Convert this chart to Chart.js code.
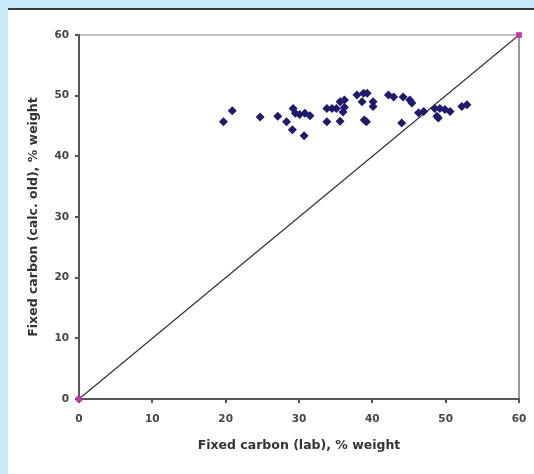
<!DOCTYPE html>
<html>
<head>
<meta charset="utf-8">
<script src="https://cdn.jsdelivr.net/npm/chart.js@4"></script>
<style>
  html, body { margin: 0; padding: 0; background: #c6e9f8; }
  #wrap { width: 534px; height: 474px; position: relative; }
</style>
</head>
<body>
<div id="wrap"><canvas id="first" width="534" height="474"></canvas></div>
<script>
// fixed carbon, lab value vs calculated (old) value
const labX = [19.7, 20.9, 24.7, 27.1, 28.3, 29.1, 30.7, 29.2, 29.5, 30.1, 30.8, 31.5,
  33.8, 34.5, 35.1, 35.6, 33.8, 35.6, 36.2, 36.2, 36.0,
  37.9, 38.8, 39.3, 38.6, 40.1, 40.1, 38.9, 39.2,
  42.2, 42.9, 44.2, 45.1, 45.4, 44.0, 46.3, 47.0,
  48.5, 49.2, 49.9, 50.6, 48.8, 49.0, 52.2, 52.9];
const calcY = [45.7, 47.5, 46.5, 46.6, 45.7, 44.4, 43.4, 47.9, 47.1, 46.9, 47.1, 46.7,
  47.9, 47.9, 47.9, 49.0, 45.7, 45.8, 49.3, 48.1, 47.3,
  50.1, 50.4, 50.4, 49.0, 49.0, 48.2, 46.0, 45.7,
  50.1, 49.8, 49.8, 49.3, 48.8, 45.5, 47.2, 47.4,
  47.9, 47.9, 47.7, 47.4, 46.6, 46.3, 48.2, 48.5];
const lineX = [0, 60];
const lineY = [0, 60];
const tickMin = 0, tickMax = 60, tickStep = 10;

const pts = labX.map((v, i) => ({x: v, y: calcY[i]}));
const linePts = lineX.map((v, i) => ({x: v, y: lineY[i]}));

// light blue frame with white panel behind the chart
const panel = {
  id: "panel",
  beforeDraw(c) {
    const ctx = c.ctx;
    ctx.save();
    ctx.fillStyle = "#c6e9f8";
    ctx.fillRect(0, 0, c.width, c.height);
    ctx.fillStyle = "#ffffff";
    ctx.fillRect(8, 8, c.width - 8, c.height - 8);
    ctx.fillStyle = "#3a3a3a";
    ctx.fillRect(8, 8, c.width - 8, 2);
    ctx.restore();
  }
};

const tickFont = {family: "'DejaVu Sans', Arial, sans-serif", size: 10.5, weight: "bold"};
const titleFont = {family: "'DejaVu Sans', Arial, sans-serif", size: 12.5, weight: "bold"};

new Chart("first", {
  type: "scatter",
  data: {
    datasets: [{
      data: pts,
      pointStyle: "rectRot",
      pointRadius: 4.5,
      backgroundColor: "#1f1a6e",
      borderColor: "#1f1a6e",
      borderWidth: 0
    }, {
      type: "line",
      data: linePts,
      borderColor: "#333333",
      borderWidth: 1.2,
      pointStyle: "rect",
      pointRadius: 4,
      pointBackgroundColor: "#c832a8",
      pointBorderColor: "#c832a8",
      pointBorderWidth: 0
    }]
  },
  options: {
    responsive: false,
    animation: false,
    clip: false,
    layout: {padding: {top: 35, right: 15, left: 0, bottom: 0}},
    plugins: {legend: {display: false}, tooltip: {enabled: false}},
    scales: {
      x: {
        min: tickMin, max: tickMax,
        afterFit: (s) => { s.height = 75; s.paddingLeft = 0; s.paddingRight = 0; },
        ticks: {stepSize: tickStep, color: "#444", font: tickFont, padding: 10},
        grid: {
          color: (ctx) => ctx.tick && ctx.tick.value === tickMax ? "#9a9a9a" : "rgba(0,0,0,0)",
          lineWidth: 2,
          tickColor: "#555",
          tickLength: 4
        },
        border: {color: "#555", width: 2},
        title: {display: true, text: "Fixed carbon (lab), % weight", color: "#333",
          font: titleFont, padding: {top: 0, bottom: 21}}
      },
      y: {
        min: tickMin, max: tickMax,
        afterFit: (s) => { s.width = 79; s.paddingTop = 0; s.paddingBottom = 0; },
        ticks: {stepSize: tickStep, color: "#444", font: tickFont, padding: 6},
        grid: {
          color: (ctx) => ctx.tick && ctx.tick.value === tickMax ? "#c4c4c4" : "rgba(0,0,0,0)",
          lineWidth: 2,
          tickColor: "#555",
          tickLength: 4
        },
        border: {color: "#555", width: 2},
        title: {display: true, text: "Fixed carbon (calc. old), % weight", color: "#333",
          font: titleFont, padding: {top: 26, bottom: 0}}
      }
    }
  },
  plugins: [panel]
});
</script>
</body>
</html>
